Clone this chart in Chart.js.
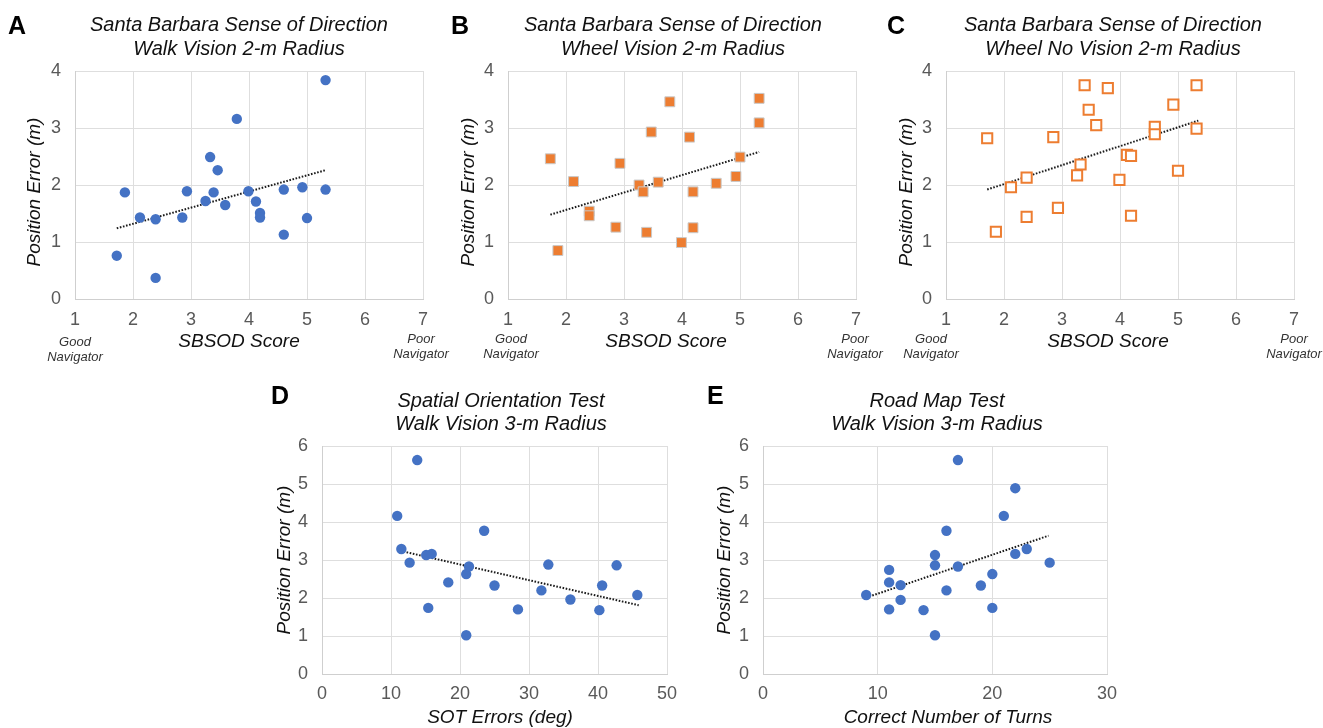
<!DOCTYPE html>
<html>
<head>
<title>Position error vs navigation tests</title>
<script src="https://cdn.jsdelivr.net/npm/chart.js"></script>
<style>
  body { margin: 0; background: #fff; width: 1323px; height: 728px; position: relative; overflow: hidden; }
  canvas { position: absolute; }
</style>
</head>
<body>
<canvas id="chartA"></canvas>
<canvas id="chartB"></canvas>
<canvas id="chartC"></canvas>
<canvas id="chartD"></canvas>
<canvas id="chartE"></canvas>

<script>
// --- data ---
// A: SBSOD score vs position error, walk vision 2 m
const sbsodA = [1.72, 1.86, 2.12, 2.39, 2.39, 2.85, 2.93, 3.25, 3.33, 3.39, 3.46, 3.59, 3.79, 3.99, 4.12, 4.19, 4.19, 4.60, 4.60, 4.92, 5.00, 5.32, 5.32];
const errorA = [0.76, 1.87, 1.43, 1.40, 0.37, 1.43, 1.89, 1.72, 2.49, 1.87, 2.26, 1.65, 3.16, 1.89, 1.71, 1.51, 1.43, 1.92, 1.13, 1.96, 1.42, 3.84, 1.92];
const trendAX = [1.72, 5.32];
const trendAY = [1.24, 2.26];

// B: wheel vision 2 m
const sbsodB = [1.73, 1.86, 2.13, 2.40, 2.40, 2.86, 2.93, 3.26, 3.33, 3.39, 3.47, 3.59, 3.79, 3.99, 4.13, 4.19, 4.19, 4.59, 4.93, 5.00, 5.33, 5.33];
const errorB = [2.46, 0.85, 2.06, 1.54, 1.46, 1.26, 2.38, 2.00, 1.88, 1.17, 2.93, 2.05, 3.46, 0.99, 2.84, 1.88, 1.25, 2.03, 2.15, 2.49, 3.52, 3.09];
const trendBX = [1.73, 5.33];
const trendBY = [1.48, 2.58];

// C: wheel no vision 2 m
const sbsodC = [1.71, 1.86, 2.12, 2.39, 2.39, 2.85, 2.93, 3.26, 3.32, 3.39, 3.46, 3.59, 3.79, 3.99, 4.12, 4.19, 4.19, 4.60, 4.60, 4.92, 5.00, 5.32, 5.32];
const errorC = [2.82, 1.18, 1.96, 2.13, 1.44, 2.84, 1.60, 2.17, 2.36, 3.75, 3.32, 3.05, 3.70, 2.09, 2.53, 2.51, 1.46, 3.02, 2.89, 3.41, 2.25, 3.75, 2.99];
const trendCX = [1.71, 5.35];
const trendCY = [1.92, 3.13];

// D: SOT errors, walk vision 3 m
const sotD = [10.9, 11.5, 12.7, 13.8, 15.1, 15.9, 15.4, 18.3, 20.9, 21.3, 20.9, 23.5, 25.0, 28.4, 31.8, 32.8, 36.0, 40.2, 40.6, 42.7, 45.7];
const errorD = [4.16, 3.29, 2.93, 5.63, 3.13, 3.16, 1.74, 2.41, 2.63, 2.83, 1.02, 3.77, 2.33, 1.70, 2.20, 2.88, 1.96, 1.68, 2.33, 2.86, 2.08];
const trendDX = [10.9, 45.9];
const trendDY = [3.26, 1.81];

// E: road map test turns, walk vision 3 m
const turnsE = [9, 11, 11, 11, 12, 12, 14, 15, 15, 15, 16, 16, 17, 17, 19, 20, 20, 21, 22, 22, 23, 25];
const errorE = [2.08, 2.74, 2.41, 1.70, 2.34, 1.95, 1.68, 3.13, 2.86, 1.02, 3.77, 2.20, 5.63, 2.83, 2.33, 2.63, 1.74, 4.16, 4.89, 3.16, 3.29, 2.93];
const trendEX = [9, 24.9];
const trendEY = [2.01, 3.64];

const sbsodTicks = [1, 7, 1];   // min, max, step
const sbsodErrTicks = [0, 4, 1];
const sotTicks = [0, 50, 10];
const turnsTicks = [0, 30, 10];
const walkErrTicks = [0, 6, 1];

const BLUE = '#4472C4';
const ORANGE = '#ED7D31';
const FONT = "'Liberation Sans', Arial, Helvetica, sans-serif";

function pts(xs, ys) {
  return xs.map((x, i) => ({ x: x, y: ys[i] }));
}

// draws panel letters, titles, axis titles and the navigator notes
const textPlugin = {
  id: 'panelText',
  afterDraw(chart, args, opts) {
    const ctx = chart.ctx;
    const ox = opts.origin[0], oy = opts.origin[1];
    ctx.save();
    ctx.textBaseline = 'middle';
    opts.items.forEach(t => {
      ctx.save();
      ctx.font = t.font;
      ctx.fillStyle = t.color || '#111';
      ctx.textAlign = t.align || 'center';
      ctx.translate(t.x - ox, t.y - oy);
      if (t.rot) ctx.rotate(t.rot);
      ctx.fillText(t.text, 0, 0);
      ctx.restore();
    });
    ctx.restore();
  }
};

function texts(letter, lx, ly, title, tx, ty1, ty2, xTitle, xtx, xty, ytx, yty, nav) {
  const items = [
    { text: letter, x: lx, y: ly, font: 'bold 25px ' + FONT, align: 'left', color: '#000' },
    { text: title[0], x: tx, y: ty1, font: 'italic 20px ' + FONT },
    { text: title[1], x: tx, y: ty2, font: 'italic 20px ' + FONT },
    { text: xTitle, x: xtx, y: xty, font: 'italic 19px ' + FONT },
    { text: 'Position Error (m)', x: ytx, y: yty, font: 'italic 19px ' + FONT, rot: -Math.PI / 2 }
  ];
  if (nav) {
    const f = 'italic 13px ' + FONT;
    items.push({ text: 'Good', x: nav[0], y: nav[1], font: f, color: '#333' });
    items.push({ text: 'Navigator', x: nav[0], y: nav[1] + 15, font: f, color: '#333' });
    items.push({ text: 'Poor', x: nav[2], y: nav[3], font: f, color: '#333' });
    items.push({ text: 'Navigator', x: nav[2], y: nav[3] + 15, font: f, color: '#333' });
  }
  return items;
}

function buildPanel(cfg) {
  const el = document.getElementById(cfg.id);
  const [bx, by, bw, bh] = cfg.box;
  const [pl, pt, pr, pb] = cfg.plot;
  el.style.left = bx + 'px';
  el.style.top = by + 'px';
  el.width = bw;
  el.height = bh;
  const yW = pl - bx;
  const xH = by + bh - pb;

  const axisBase = (range, pad) => ({
    type: 'linear',
    min: range[0],
    max: range[1],
    ticks: { stepSize: range[2], color: '#595959', font: { family: FONT, size: 18 }, padding: pad },
    grid: { color: '#dedede', lineWidth: 1, drawTicks: false },
    border: { color: '#cfcfcf' }
  });

  const xAxis = axisBase(cfg.xRange, cfg.xPad);
  xAxis.afterFit = s => { s.height = xH; };
  const yAxis = axisBase(cfg.yRange, 14);
  yAxis.afterFit = s => { s.width = yW; };

  new Chart(el, {
    type: 'scatter',
    data: {
      datasets: [
        Object.assign({ data: pts(cfg.xs, cfg.ys) }, cfg.marker),
        {
          type: 'line',
          data: pts(cfg.tx, cfg.ty),
          borderColor: '#1a1a1a',
          borderWidth: 2,
          borderDash: [1.6, 1.6],
          pointRadius: 0,
          fill: false
        }
      ]
    },
    options: {
      responsive: false,
      animation: false,
      layout: { padding: { top: pt - by, right: bx + bw - pr, left: 0, bottom: 0 } },
      plugins: {
        legend: { display: false },
        tooltip: { enabled: false },
        panelText: { origin: [bx, by], items: cfg.items }
      },
      scales: { x: xAxis, y: yAxis }
    },
    plugins: [textPlugin]
  });
}

const blueDot = { pointStyle: 'circle', pointRadius: 5.2, backgroundColor: BLUE, borderColor: BLUE, borderWidth: 0 };
const orangeSquare = { pointStyle: 'rect', pointRadius: 7, backgroundColor: ORANGE, borderColor: '#c9c9c9', borderWidth: 1 };
const openSquare = { pointStyle: 'rect', pointRadius: 7.2, backgroundColor: '#ffffff', borderColor: ORANGE, borderWidth: 2 };

const sbTitle = 'Santa Barbara Sense of Direction';

buildPanel({
  id: 'chartA', box: [0, 0, 460, 370], plot: [75, 71, 423, 299],
  xs: sbsodA, ys: errorA, tx: trendAX, ty: trendAY, marker: blueDot,
  xRange: sbsodTicks, yRange: sbsodErrTicks, xPad: 10,
  items: texts('A', 8, 27, [sbTitle, 'Walk Vision 2-m Radius'], 239, 25, 49,
               'SBSOD Score', 239, 342, 35, 192, [75, 342, 421, 339])
});

buildPanel({
  id: 'chartB', box: [440, 0, 460, 370], plot: [508, 71, 856, 299],
  xs: sbsodB, ys: errorB, tx: trendBX, ty: trendBY, marker: orangeSquare,
  xRange: sbsodTicks, yRange: sbsodErrTicks, xPad: 10,
  items: texts('B', 451, 27, [sbTitle, 'Wheel Vision 2-m Radius'], 673, 25, 49,
               'SBSOD Score', 666, 342, 469, 192, [511, 339, 855, 339])
});

buildPanel({
  id: 'chartC', box: [880, 0, 443, 370], plot: [946, 71, 1294, 299],
  xs: sbsodC, ys: errorC, tx: trendCX, ty: trendCY, marker: openSquare,
  xRange: sbsodTicks, yRange: sbsodErrTicks, xPad: 10,
  items: texts('C', 887, 27, [sbTitle, 'Wheel No Vision 2-m Radius'], 1113, 25, 49,
               'SBSOD Score', 1108, 342, 907, 192, [931, 339, 1294, 339])
});

buildPanel({
  id: 'chartD', box: [260, 375, 440, 353], plot: [322, 446, 667, 674],
  xs: sotD, ys: errorD, tx: trendDX, ty: trendDY, marker: blueDot,
  xRange: sotTicks, yRange: walkErrTicks, xPad: 9,
  items: texts('D', 271, 397, ['Spatial Orientation Test', 'Walk Vision 3-m Radius'], 501, 401, 424,
               'SOT Errors (deg)', 500, 718, 285, 560, null)
});

buildPanel({
  id: 'chartE', box: [700, 375, 440, 353], plot: [763, 446, 1107, 674],
  xs: turnsE, ys: errorE, tx: trendEX, ty: trendEY, marker: blueDot,
  xRange: turnsTicks, yRange: walkErrTicks, xPad: 9,
  items: texts('E', 707, 397, ['Road Map Test', 'Walk Vision 3-m Radius'], 937, 401, 424,
               'Correct Number of Turns', 948, 718, 725, 560, null)
});
</script>
</body>
</html>
